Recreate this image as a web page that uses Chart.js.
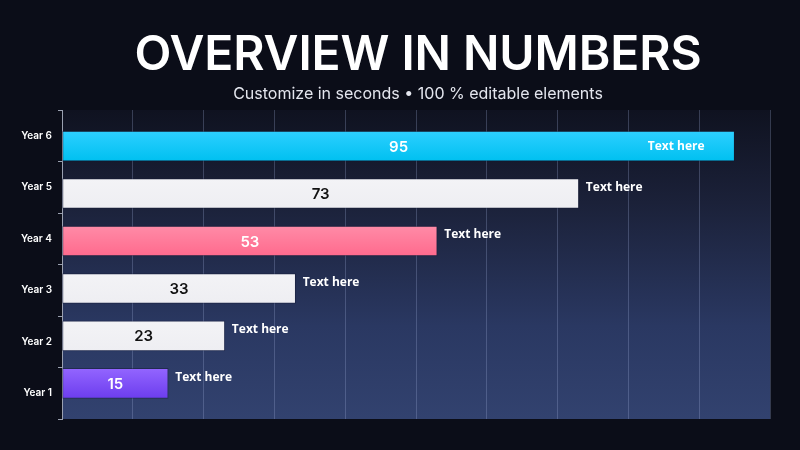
<!DOCTYPE html>
<html>
<head>
<meta charset="utf-8">
<script src="https://cdn.jsdelivr.net/npm/chart.js@4.4.1/dist/chart.umd.min.js"></script>
<style>
  html, body { margin: 0; padding: 0; background: #0b0d18; }
  .wrap { position: relative; width: 800px; height: 450px; overflow: hidden; background: #0b0d18; }
  .title { position: absolute; left: 0; width: 836px; top: 25px; text-align: center;
    font-family: Inter, "Noto Sans", sans-serif; font-weight: 600; font-size: 48px;
    letter-spacing: -0.1px; color: #fff; line-height: 56px; }
  .subtitle { position: absolute; left: 0; width: 836px; top: 82px; text-align: center;
    font-family: Inter, "Noto Sans", sans-serif; font-weight: 400; font-size: 16px;
    color: #e4e6ee; line-height: 22px; }
  canvas { position: absolute; left: 0; top: 0; }
</style>
</head>
<body>
<div class="wrap">
  <canvas id="barchart" width="800" height="450"></canvas>
  <div class="title">OVERVIEW IN NUMBERS</div>
  <div class="subtitle">Customize in seconds • 100 % editable elements</div>
</div>
<script>
// data (bottom to top)
const categories = ['Year 1', 'Year 2', 'Year 3', 'Year 4', 'Year 5', 'Year 6'];
const values = [15, 23, 33, 53, 73, 95];
const notes = ['Text here', 'Text here', 'Text here', 'Text here', 'Text here', 'Text here'];
const xTicks = [0, 10, 20, 30, 40, 50, 60, 70, 80, 90, 100];

// styles
const barTops = ['#9365ff', '#f3f3f6', '#f3f3f6', '#ff8ba7', '#f3f3f6', '#2dcfff'];
const barBottoms = ['#6c3dee', '#eeeef2', '#eeeef2', '#ff6a8d', '#eeeef2', '#00c0f0'];
const numberColors = ['#ffffff', '#111111', '#111111', '#ffffff', '#111111', '#ffffff'];
const noteInside = [false, false, false, false, false, true];

const ctx = document.getElementById('barchart').getContext('2d');

function barFill(context) {
  const i = context.dataIndex;
  const scale = context.chart.scales.yb;
  if (!scale || i === undefined) return barTops[i] || barTops[0];
  const y = scale.getPixelForValue(i);
  if (!isFinite(y)) return barTops[i];
  const g = context.chart.ctx.createLinearGradient(0, y - 15, 0, y + 15);
  g.addColorStop(0, barTops[i]);
  g.addColorStop(1, barBottoms[i]);
  return g;
}

// plot area background
const areaBg = {
  id: 'areaBg',
  beforeDraw(chart) {
    const { ctx, chartArea: a } = chart;
    const g = ctx.createLinearGradient(0, a.top, 0, a.bottom);
    g.addColorStop(0, '#0f1220');
    g.addColorStop(0.3, '#1b2139');
    g.addColorStop(0.7, '#2a3862');
    g.addColorStop(1, '#32426f');
    ctx.save();
    ctx.fillStyle = g;
    ctx.fillRect(a.left, a.top, a.right - a.left, a.bottom - a.top);
    ctx.restore();
  }
};

// numbers and notes on the bars
const barTexts = {
  id: 'barTexts',
  afterDatasetsDraw(chart) {
    const { ctx } = chart;
    const meta = chart.getDatasetMeta(0);
    ctx.save();
    meta.data.forEach((bar, i) => {
      ctx.textBaseline = 'middle';
      ctx.font = '600 15px Inter, "Noto Sans", sans-serif';
      ctx.fillStyle = numberColors[i];
      ctx.textAlign = 'center';
      ctx.fillText(String(values[i]), (bar.base + bar.x) / 2, bar.y + 1);

      ctx.font = 'bold 12px "Open Sans", sans-serif';
      ctx.fillStyle = '#ffffff';
      if (noteInside[i]) {
        ctx.textAlign = 'right';
        ctx.fillText(notes[i], bar.x - 30, bar.y + 1);
      } else {
        ctx.textAlign = 'left';
        ctx.fillText(notes[i], bar.x + 7, bar.y - 6);
      }
    });
    ctx.restore();
  }
};

const data = {
  labels: categories,
  datasets: [{
    label: 'Overview',
    data: categories.map((c, i) => ({ x: values[i], y: i })),
    yAxisID: 'yb',
    backgroundColor: barFill,
    borderColor: 'rgba(20, 24, 50, 0.45)',
    borderWidth: 1,
    borderSkipped: false,
    barThickness: 30
  }]
};

const config = {
  type: 'bar',
  data: data,
  options: {
    indexAxis: 'y',
    responsive: false,
    animation: false,
    layout: { padding: { left: 0, right: 30, top: 110, bottom: 31 } },
    plugins: {
      legend: { display: false },
      tooltip: { enabled: false }
    },
    scales: {
      x: {
        type: 'linear',
        min: 0,
        max: 100,
        afterBuildTicks: (s) => { s.ticks = xTicks.map(v => ({ value: v })); },
        ticks: { display: false },
        grid: { color: 'rgba(160, 175, 220, 0.28)', lineWidth: 1, drawTicks: false },
        border: { display: false },
        afterFit: (s) => { s.height = 0; }
      },
      y: {
        type: 'category',
        labels: categories,
        reverse: true,
        offset: true,
        position: 'left',
        grid: { offset: true, drawOnChartArea: false, drawTicks: true, tickLength: 4, color: '#9aa0b0' },
        border: { display: true, color: '#9aa0b0', width: 1 },
        ticks: {
          color: '#ffffff',
          padding: 6,
          font: { family: 'Inter, "Noto Sans", sans-serif', size: 10, weight: '600' }
        },
        afterFit: (s) => { s.width = 62; }
      },
      yb: {
        type: 'linear',
        display: false,
        offset: false,
        min: -0.75,
        max: 5.76,
        grid: { display: false }
      }
    }
  },
  plugins: [areaBg, barTexts]
};

const myChart = new Chart(ctx, config);
</script>
</body>
</html>
